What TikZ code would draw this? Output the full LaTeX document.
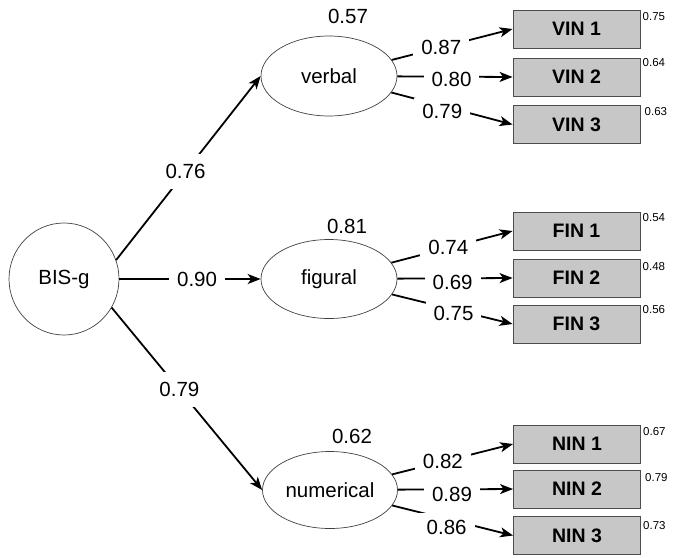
\documentclass[tikz,border=0pt]{standalone}
\usepackage{fontspec}
\setmainfont{Liberation Sans}
\usetikzlibrary{arrows.meta,shapes.geometric}
\begin{document}
\begin{tikzpicture}[x=1pt,y=-1pt,
  lat/.style={draw=black!75, line width=0.7pt, ellipse, inner sep=0pt, font=\fontsize{20.5}{24}\selectfont},
  obs/.style={draw=black!70, line width=0.9pt, fill=black!22, rectangle, minimum width=127pt, minimum height=38pt, inner sep=0pt, font=\fontsize{19.5}{23}\selectfont\bfseries},
  edge/.style={line width=1.8pt, -{Stealth[length=13pt,width=10pt,inset=3.5pt]}},
  lbl/.style={fill=white, inner xsep=8pt, inner ysep=7pt, font=\fontsize{20.5}{24}\selectfont},
  big/.style={inner sep=0pt, font=\fontsize{20.5}{24}\selectfont},
  small/.style={inner sep=0pt, anchor=north west, font=\fontsize{11.5}{13}\selectfont}]
\useasboundingbox (0,0) rectangle (676,557);

% latent variables
\node[lat, minimum width=110pt, minimum height=112pt] (bis) at (64,279) {BIS-g};
\node[lat, minimum width=136pt, minimum height=80pt] (verbal) at (329,76) {verbal};
\node[lat, minimum width=136pt, minimum height=79pt] (figural) at (329,279) {figural};
\node[lat, minimum width=135pt, minimum height=77pt] (numerical) at (330,490) {numerical};

% residual labels above latents
\node[big] (r57) at (348,16) {0.57};
\node[big] (r81) at (347,226) {0.81};
\node[big] (r62) at (352,436) {0.62};

% observed variables
\node[obs] (vin1) at (576.5,29) {VIN 1};
\node[obs] (vin2) at (576.5,77) {VIN 2};
\node[obs] (vin3) at (576.5,124.5) {VIN 3};
\node[obs] (fin1) at (576.5,231) {FIN 1};
\node[obs] (fin2) at (576.5,278) {FIN 2};
\node[obs] (fin3) at (576.5,324) {FIN 3};
\node[obs] (nin1) at (577,444) {NIN 1};
\node[obs] (nin2) at (577,489) {NIN 2};
\node[obs] (nin3) at (577,535.5) {NIN 3};

% small labels next to boxes
\node[small] (s1) at ([xshift=2pt,yshift=-3pt]vin1.north east) {0.75};
\node[small] (s2) at ([xshift=2pt,yshift=-1pt]vin2.north east) {0.64};
\node[small] (s3) at ([xshift=4pt,yshift=-2pt]vin3.north east) {0.63};
\node[small] (s4) at ([xshift=2pt,yshift=-2pt]fin1.north east) {0.54};
\node[small] (s5) at ([xshift=2pt,yshift=-4pt]fin2.north east) {0.48};
\node[small] (s6) at ([xshift=2pt,yshift=-1pt]fin3.north east) {0.56};
\node[small] (s7) at ([xshift=2pt,yshift=-3pt]nin1.north east) {0.67};
\node[small] (s8) at ([xshift=4pt,yshift=-4pt]nin2.north east) {0.79};
\node[small] (s9) at ([xshift=2pt,yshift=-5pt]nin3.north east) {0.73};

% paths from BIS-g
\draw[edge] (bis.20) -- node[lbl, pos=0.48, inner ysep=10pt] {0.76} (verbal.west);
\draw[edge] (bis.east) -- node[lbl, pos=0.55] {0.90} (figural.west);
\draw[edge] (bis.-31) -- node[lbl, pos=0.45, inner ysep=10pt] {0.79} (numerical.west);

% loadings
\draw[edge] (verbal) -- node[lbl, pos=0.41] {0.87} (vin1.west);
\draw[edge] (verbal) -- node[lbl, pos=0.47, yshift=-3pt] {0.80} (vin2.west);
\draw[edge] (verbal) -- node[lbl, pos=0.42, yshift=-6pt] {0.79} (vin3.west);
\draw[edge] (figural) -- node[lbl, pos=0.47] {0.74} (fin1.west);
\draw[edge] (figural) -- node[lbl, pos=0.48, yshift=-4pt] {0.69} (fin2.west);
\draw[edge] (figural) -- node[lbl, pos=0.51, yshift=-4pt] {0.75} (fin3.west);
\draw[edge] (numerical) -- node[lbl, pos=0.42] {0.82} (nin1.west);
\draw[edge] (numerical) -- node[lbl, pos=0.47, yshift=-5pt] {0.89} (nin2.west);
\draw[edge] (numerical) -- node[lbl, pos=0.45, yshift=-8pt] {0.86} (nin3.west);
\end{tikzpicture}
\end{document}
